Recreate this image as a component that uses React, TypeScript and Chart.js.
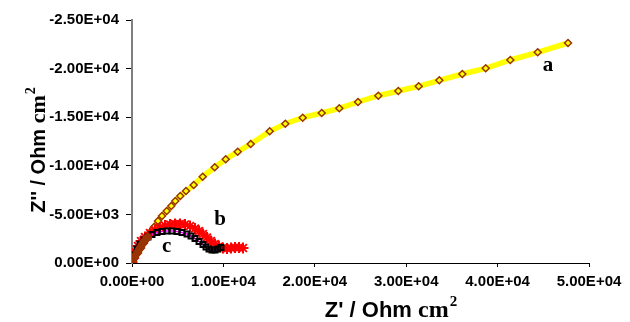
import React, { useEffect, useRef } from "react";
import { Chart, registerables } from "chart.js";

Chart.register(...registerables);

// Curve a (yellow, diamonds)
const aX = [100, 330, 656, 985, 1313, 1641, 2024, 2440, 2845, 3282, 3797, 4300, 4737, 5285, 5908, 6751, 7736, 9048, 10252, 11565, 12987, 15066, 16773, 18677, 20755, 22681, 24727, 26948, 29136, 31368, 33622, 36139, 38699, 41391, 44388, 47703];
const aY = [-100, -510, -1029, -1543, -2058, -2572, -3189, -3735, -4321, -4835, -5350, -5864, -6379, -6893, -7407, -8025, -8879, -9846, -10669, -11451, -12243, -13549, -14331, -14948, -15432, -15916, -16564, -17212, -17695, -18179, -18796, -19444, -20031, -20885, -21677, -22634];

// Dense high-frequency part of curve a (brown cluster near origin)
const aHfX = [0, 109, 219, 383, 547, 711, 875, 1039, 1204, 1368, 1532, 1751];
const aHfY = [0, -257, -514, -772, -1029, -1286, -1543, -1800, -2058, -2263, -2469, -2675];

// Curve b (red stars)
const bX = [0, 109, 328, 656, 985, 1422, 1969, 2516, 3063, 3610, 4158, 4705, 5252, 5799, 6346, 6893, 7330, 7768, 8206, 8643, 9081, 9519, 9956, 10394, 10832, 11269, 11707, 12145];
const bY = [0, -514, -1132, -1749, -2263, -2675, -3086, -3395, -3652, -3858, -3961, -4012, -4012, -3961, -3807, -3549, -3292, -2984, -2623, -2263, -1955, -1698, -1543, -1492, -1543, -1595, -1595, -1543];

// Curve c (black squares)
const cX = [0, 219, 547, 875, 1313, 1751, 2188, 2735, 3282, 3829, 4376, 4923, 5471, 6018, 6455, 6893, 7330, 7768, 8096, 8424, 8753, 9081, 9409, 9737];
const cY = [0, -823, -1440, -1955, -2366, -2675, -2932, -3138, -3241, -3292, -3292, -3241, -3138, -2984, -2778, -2521, -2212, -1903, -1646, -1440, -1337, -1337, -1440, -1595];

// Curve letters
const curveLabels = ["a", "b", "c"];
const curveLabelX = [45515, 9628, 3797];
const curveLabelY = [-20267, -4424, -1677];

// Axis ranges / ticks
const xMin = 0, xMax = 50000, xStep = 10000;
const yMin = -25000, yMax = 0, yStep = 5000;

const toPts = (xs: number[], ys: number[]) => xs.map((x, i) => ({ x, y: ys[i] }));

const formatE = (v: number) => {
  if (v === 0) return "0.00E+00";
  let e = Math.floor(Math.log10(Math.abs(v)));
  let m = v / Math.pow(10, e);
  if (Math.abs(parseFloat(m.toFixed(2))) >= 10) {
    e += 1;
    m = v / Math.pow(10, e);
  }
  return m.toFixed(2) + "E" + (e < 0 ? "-" : "+") + String(Math.abs(e)).padStart(2, "0");
};

const SANS = "'Liberation Sans', Arial, sans-serif";
const SERIF = "'Liberation Serif', 'Times New Roman', serif";

function measureTitle(ctx: CanvasRenderingContext2D, prefix: string, size: number) {
  ctx.font = `bold ${size}px ${SANS}`;
  const w1 = ctx.measureText(prefix).width;
  ctx.font = `bold ${size + 2}px ${SERIF}`;
  const w2 = ctx.measureText("cm").width;
  ctx.font = `bold ${Math.round(size * 0.68)}px ${SERIF}`;
  const w3 = ctx.measureText("2").width;
  return { w1, w2, w3, total: w1 + w2 + w3 + 1 };
}

function renderTitle(ctx: CanvasRenderingContext2D, prefix: string, size: number) {
  const m = measureTitle(ctx, prefix, size);
  let x = -m.total / 2;
  ctx.textBaseline = "alphabetic";
  ctx.textAlign = "left";
  ctx.fillStyle = "#000";
  ctx.font = `bold ${size}px ${SANS}`;
  ctx.fillText(prefix, x, 0);
  x += m.w1;
  ctx.font = `bold ${size + 2}px ${SERIF}`;
  ctx.fillText("cm", x, 0);
  x += m.w2 + 1;
  ctx.font = `bold ${Math.round(size * 0.68)}px ${SERIF}`;
  ctx.fillText("2", x, -size * 0.48);
}

const annotPlugin = {
  id: "annot",
  afterDraw(chart: any) {
    const ctx: CanvasRenderingContext2D = chart.ctx;
    const xs = chart.scales.x;
    const ys = chart.scales.y;
    ctx.save();
    ctx.fillStyle = "#000";
    ctx.font = `bold 21px ${SERIF}`;
    ctx.textAlign = "center";
    ctx.textBaseline = "middle";
    curveLabels.forEach((t, i) => {
      ctx.fillText(t, xs.getPixelForValue(curveLabelX[i]), ys.getPixelForValue(curveLabelY[i]));
    });
    ctx.save();
    ctx.translate(391, 317);
    renderTitle(ctx, "Z' / Ohm ", 22);
    ctx.restore();
    ctx.save();
    ctx.translate(45, 150);
    ctx.rotate(-Math.PI / 2);
    renderTitle(ctx, "Z'' / Ohm ", 20);
    ctx.restore();
    ctx.restore();
  },
};

export default function App() {
  const ref = useRef<HTMLCanvasElement | null>(null);
  useEffect(() => {
    if (!ref.current) return;
    const chart = new Chart(ref.current, {
      type: "scatter",
      data: {
        datasets: [
          {
            label: "aHF",
            data: toPts(aHfX, aHfY),
            showLine: true,
            borderColor: "#993300",
            borderWidth: 6,
            pointStyle: "circle",
            pointRadius: 3.5,
            pointBackgroundColor: "#993300",
            pointBorderColor: "#993300",
            pointBorderWidth: 1,
            order: 0,
          },
          {
            label: "c",
            data: toPts(cX, cY),
            showLine: true,
            borderColor: "#ff00ff",
            borderWidth: 1.5,
            pointStyle: "rect",
            pointRadius: 3.5,
            pointBackgroundColor: "rgba(0,0,0,0)",
            pointBorderColor: "#000000",
            pointBorderWidth: 2,
            order: 1,
          },
          {
            label: "b",
            data: toPts(bX, bY),
            showLine: true,
            borderColor: "#3333ff",
            borderWidth: 1,
            pointStyle: "star",
            pointRadius: 5.5,
            pointBackgroundColor: "#ff0000",
            pointBorderColor: "#ff0000",
            pointBorderWidth: 2,
            order: 2,
          },
          {
            label: "a",
            data: toPts(aX, aY),
            showLine: true,
            borderColor: "#ffff00",
            borderWidth: 5.5,
            pointStyle: "rectRot",
            pointRadius: 3.5,
            pointBackgroundColor: "#ffff00",
            pointBorderColor: "#993300",
            pointBorderWidth: 1.5,
            order: 3,
          },
        ],
      },
      options: {
        animation: false,
        responsive: true,
        maintainAspectRatio: false,
        layout: { padding: { left: 0, top: 20, right: 41, bottom: 0 } },
        plugins: {
          legend: { display: false },
          tooltip: { enabled: false },
          title: { display: false },
        },
        scales: {
          x: {
            type: "linear",
            min: xMin,
            max: xMax,
            afterFit: (s: any) => {
              s.height = 59;
            },
            ticks: {
              stepSize: xStep,
              callback: (v: any) => formatE(Number(v)),
              color: "#000",
              font: { family: SANS, size: 15, weight: "bold" },
              padding: 6,
              maxRotation: 0,
              autoSkip: false,
            },
            grid: {
              display: true,
              drawOnChartArea: false,
              drawTicks: true,
              tickLength: 4,
              tickColor: "#000",
            },
            border: { display: true, color: "#000", width: 1 },
          },
          y: {
            type: "linear",
            min: yMin,
            max: yMax,
            reverse: true,
            afterFit: (s: any) => {
              s.width = 132;
            },
            ticks: {
              stepSize: yStep,
              callback: (v: any) => formatE(Number(v)),
              color: "#000",
              font: { family: SANS, size: 15, weight: "bold" },
              padding: 7,
              autoSkip: false,
            },
            grid: {
              display: true,
              drawOnChartArea: false,
              drawTicks: true,
              tickLength: 6,
              tickColor: "#000",
            },
            border: { display: true, color: "#808080", width: 2 },
          },
        },
      },
      plugins: [annotPlugin],
    });
    return () => chart.destroy();
  }, []);
  return (
    <div style={{ position: "absolute", left: 0, top: 0, width: 630, height: 322, background: "#fff" }}>
      <canvas ref={ref} />
    </div>
  );
}
